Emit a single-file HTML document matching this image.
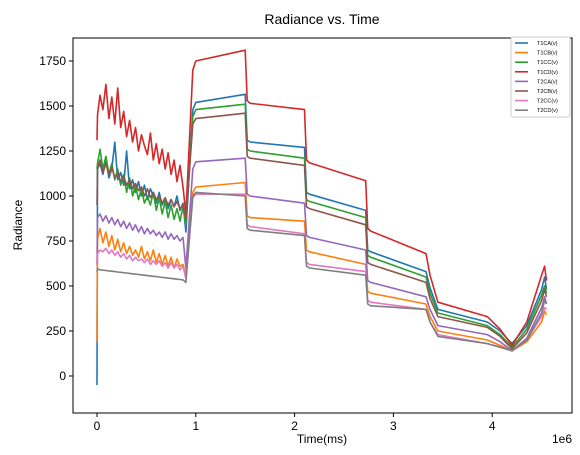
<!DOCTYPE html>
<html><head><meta charset="utf-8"><style>
body{margin:0;background:#fff;}
svg{display:block;font-family:"Liberation Sans","DejaVu Sans",sans-serif;}
</style></head><body>
<svg id="chart" width="580" height="455" viewBox="0 0 580 455" xmlns="http://www.w3.org/2000/svg">
<rect width="580" height="455" fill="#fff"/>
<text x="322" y="24" font-size="14" text-anchor="middle">Radiance vs. Time</text>
<text x="322" y="443" font-size="12" text-anchor="middle">Time(ms)</text>
<text x="572" y="443" font-size="12" text-anchor="end">1e6</text>
<text x="22" y="225" font-size="12" text-anchor="middle" transform="rotate(-90 22 225)">Radiance</text>
<g id="plot"></g>
<rect x="73" y="38" width="499" height="375" fill="none" stroke="#000" stroke-width="1"/>
<g id="axes"></g>
<g id="legend"></g>
</svg>
<script>
const names = ["T1CA(v)","T1CB(v)","T1CC(v)","T1CD(v)","T2CA(v)","T2CB(v)","T2CC(v)","T2CD(v)"];
const colors = ["#1f77b4","#ff7f0e","#2ca02c","#d62728","#9467bd","#8c564b","#e377c2","#7f7f7f"];
const xTicks = [0,1,2,3,4];
const yTicks = [0,250,500,750,1000,1250,1500,1750];
const times = [0,0.005,0.03,0.06,0.09,0.12,0.15,0.18,0.21,0.24,0.27,0.30,0.33,0.36,0.39,0.42,0.45,0.48,0.51,0.54,0.57,0.60,0.63,0.66,0.69,0.72,0.75,0.78,0.81,0.84,0.87,
 0.9,0.97,1.0,1.5,1.52,1.55,2.1,2.12,2.15,2.72,2.74,2.77,3.33,3.37,3.45,3.95,4.08,4.2,4.35,4.5,4.53,4.55];
const t1ca = [-50,1150,1180,1120,1200,1100,1150,1300,1090,1130,1060,1250,1040,1090,1020,1080,1000,1060,980,1040,1000,960,1020,950,990,930,980,940,1000,920,960,
 800,1480,1520,1565,1310,1300,1270,1020,1010,920,700,690,580,490,370,300,250,180,280,480,550,480];
const t1cb = [190,760,820,740,800,720,780,700,760,690,740,680,720,670,700,660,720,650,690,640,700,630,680,620,670,610,660,600,650,610,620,
 560,1020,1050,1075,890,880,860,700,690,620,470,460,400,330,250,200,170,140,190,300,360,340];
const t1cc = [1150,1180,1260,1150,1220,1120,1180,1090,1150,1060,1120,1020,1100,1000,1060,980,1040,960,1000,950,1020,920,990,900,970,880,950,870,930,860,940,
 840,1440,1480,1510,1260,1250,1210,980,970,880,670,660,550,460,350,280,230,160,260,450,500,460];
const t1cd = [1310,1450,1560,1480,1620,1430,1550,1400,1600,1380,1470,1330,1420,1300,1380,1250,1340,1280,1230,1350,1200,1290,1180,1260,1150,1240,1120,1200,1080,1170,1050,
 900,1700,1750,1810,1530,1515,1480,1200,1185,1085,820,805,680,560,410,330,260,170,300,560,610,530];
const t2ca = [620,880,900,860,890,850,880,840,870,830,860,820,850,810,840,800,830,790,820,790,810,780,800,770,800,760,790,760,780,750,770,
 600,1150,1190,1210,1010,1000,960,780,770,700,530,520,440,370,280,230,190,140,210,380,440,400];
const t2cb = [950,1150,1200,1130,1180,1120,1160,1100,1130,1080,1110,1060,1090,1040,1070,1030,1050,1000,1040,990,1020,980,1000,960,990,950,980,940,970,930,950,
 870,1400,1430,1460,1220,1210,1170,940,930,840,630,620,520,430,330,270,220,150,240,420,480,440];
const t2cc = [620,680,700,690,710,680,700,670,690,660,680,650,670,640,660,640,650,630,650,620,640,620,640,610,630,600,630,600,620,590,610,
 540,990,1010,1010,840,830,790,630,620,580,420,410,370,300,230,180,160,140,200,330,380,370];
const t2cd = [580,595,590,588,586,584,582,580,578,576,574,572,570,568,566,564,562,560,558,556,554,552,550,548,546,544,542,540,538,536,534,
 520,1000,1020,1000,820,810,780,610,600,560,400,390,370,300,220,180,160,140,200,350,420,400];
const series = [t1ca,t1cb,t1cc,t1cd,t2ca,t2cb,t2cc,t2cd];

const NS="http://www.w3.org/2000/svg";
function xs(t){return 97+t*98.8;}
function ys(v){return 376-v*0.18;}
const plot=document.getElementById('plot');
series.forEach((vals,i)=>{
  const p=document.createElementNS(NS,'polyline');
  p.setAttribute('points',times.map((t,k)=>xs(t).toFixed(1)+','+ys(vals[k]).toFixed(1)).join(' '));
  p.setAttribute('fill','none');p.setAttribute('stroke',colors[i]);p.setAttribute('stroke-width','1.6');
  p.setAttribute('stroke-linejoin','round');
  
  
  plot.appendChild(p);
});
const axes=document.getElementById('axes');
xTicks.forEach(t=>{
  const l=document.createElementNS(NS,'line');
  l.setAttribute('x1',xs(t));l.setAttribute('x2',xs(t));l.setAttribute('y1',413);l.setAttribute('y2',417);l.setAttribute('stroke','#000');
  
  
  axes.appendChild(l);
  const tx=document.createElementNS(NS,'text');
  tx.setAttribute('x',xs(t));tx.setAttribute('y',430);tx.setAttribute('font-size','12');tx.setAttribute('text-anchor','middle');
  tx.textContent=t;
  
  
  axes.appendChild(tx);
});
yTicks.forEach(v=>{
  const l=document.createElementNS(NS,'line');
  l.setAttribute('x1',69);l.setAttribute('x2',73);l.setAttribute('y1',ys(v));l.setAttribute('y2',ys(v));l.setAttribute('stroke','#000');
  
  
  axes.appendChild(l);
  const tx=document.createElementNS(NS,'text');
  tx.setAttribute('x',66);tx.setAttribute('y',ys(v)+4);tx.setAttribute('font-size','12');tx.setAttribute('text-anchor','end');
  tx.textContent=v;
  
  
  axes.appendChild(tx);
});
const lg=document.getElementById('legend');
const box=document.createElementNS(NS,'rect');
box.setAttribute('x',511);box.setAttribute('y',37);box.setAttribute('width',59);box.setAttribute('height',80);
box.setAttribute('fill','#fff');box.setAttribute('stroke','#ccc');box.setAttribute('rx',2);


lg.appendChild(box);
names.forEach((n,i)=>{
  const y=43+i*9.6;
  const l=document.createElementNS(NS,'line');
  l.setAttribute('x1',515);l.setAttribute('x2',528);l.setAttribute('y1',y);l.setAttribute('y2',y);
  l.setAttribute('stroke',colors[i]);l.setAttribute('stroke-width','1.6');
  
  
  lg.appendChild(l);
  const tx=document.createElementNS(NS,'text');
  tx.setAttribute('x',537);tx.setAttribute('y',y+2);tx.setAttribute('font-size','5.5');tx.textContent=n;
  
  
  lg.appendChild(tx);
});
</script>
</body></html>
